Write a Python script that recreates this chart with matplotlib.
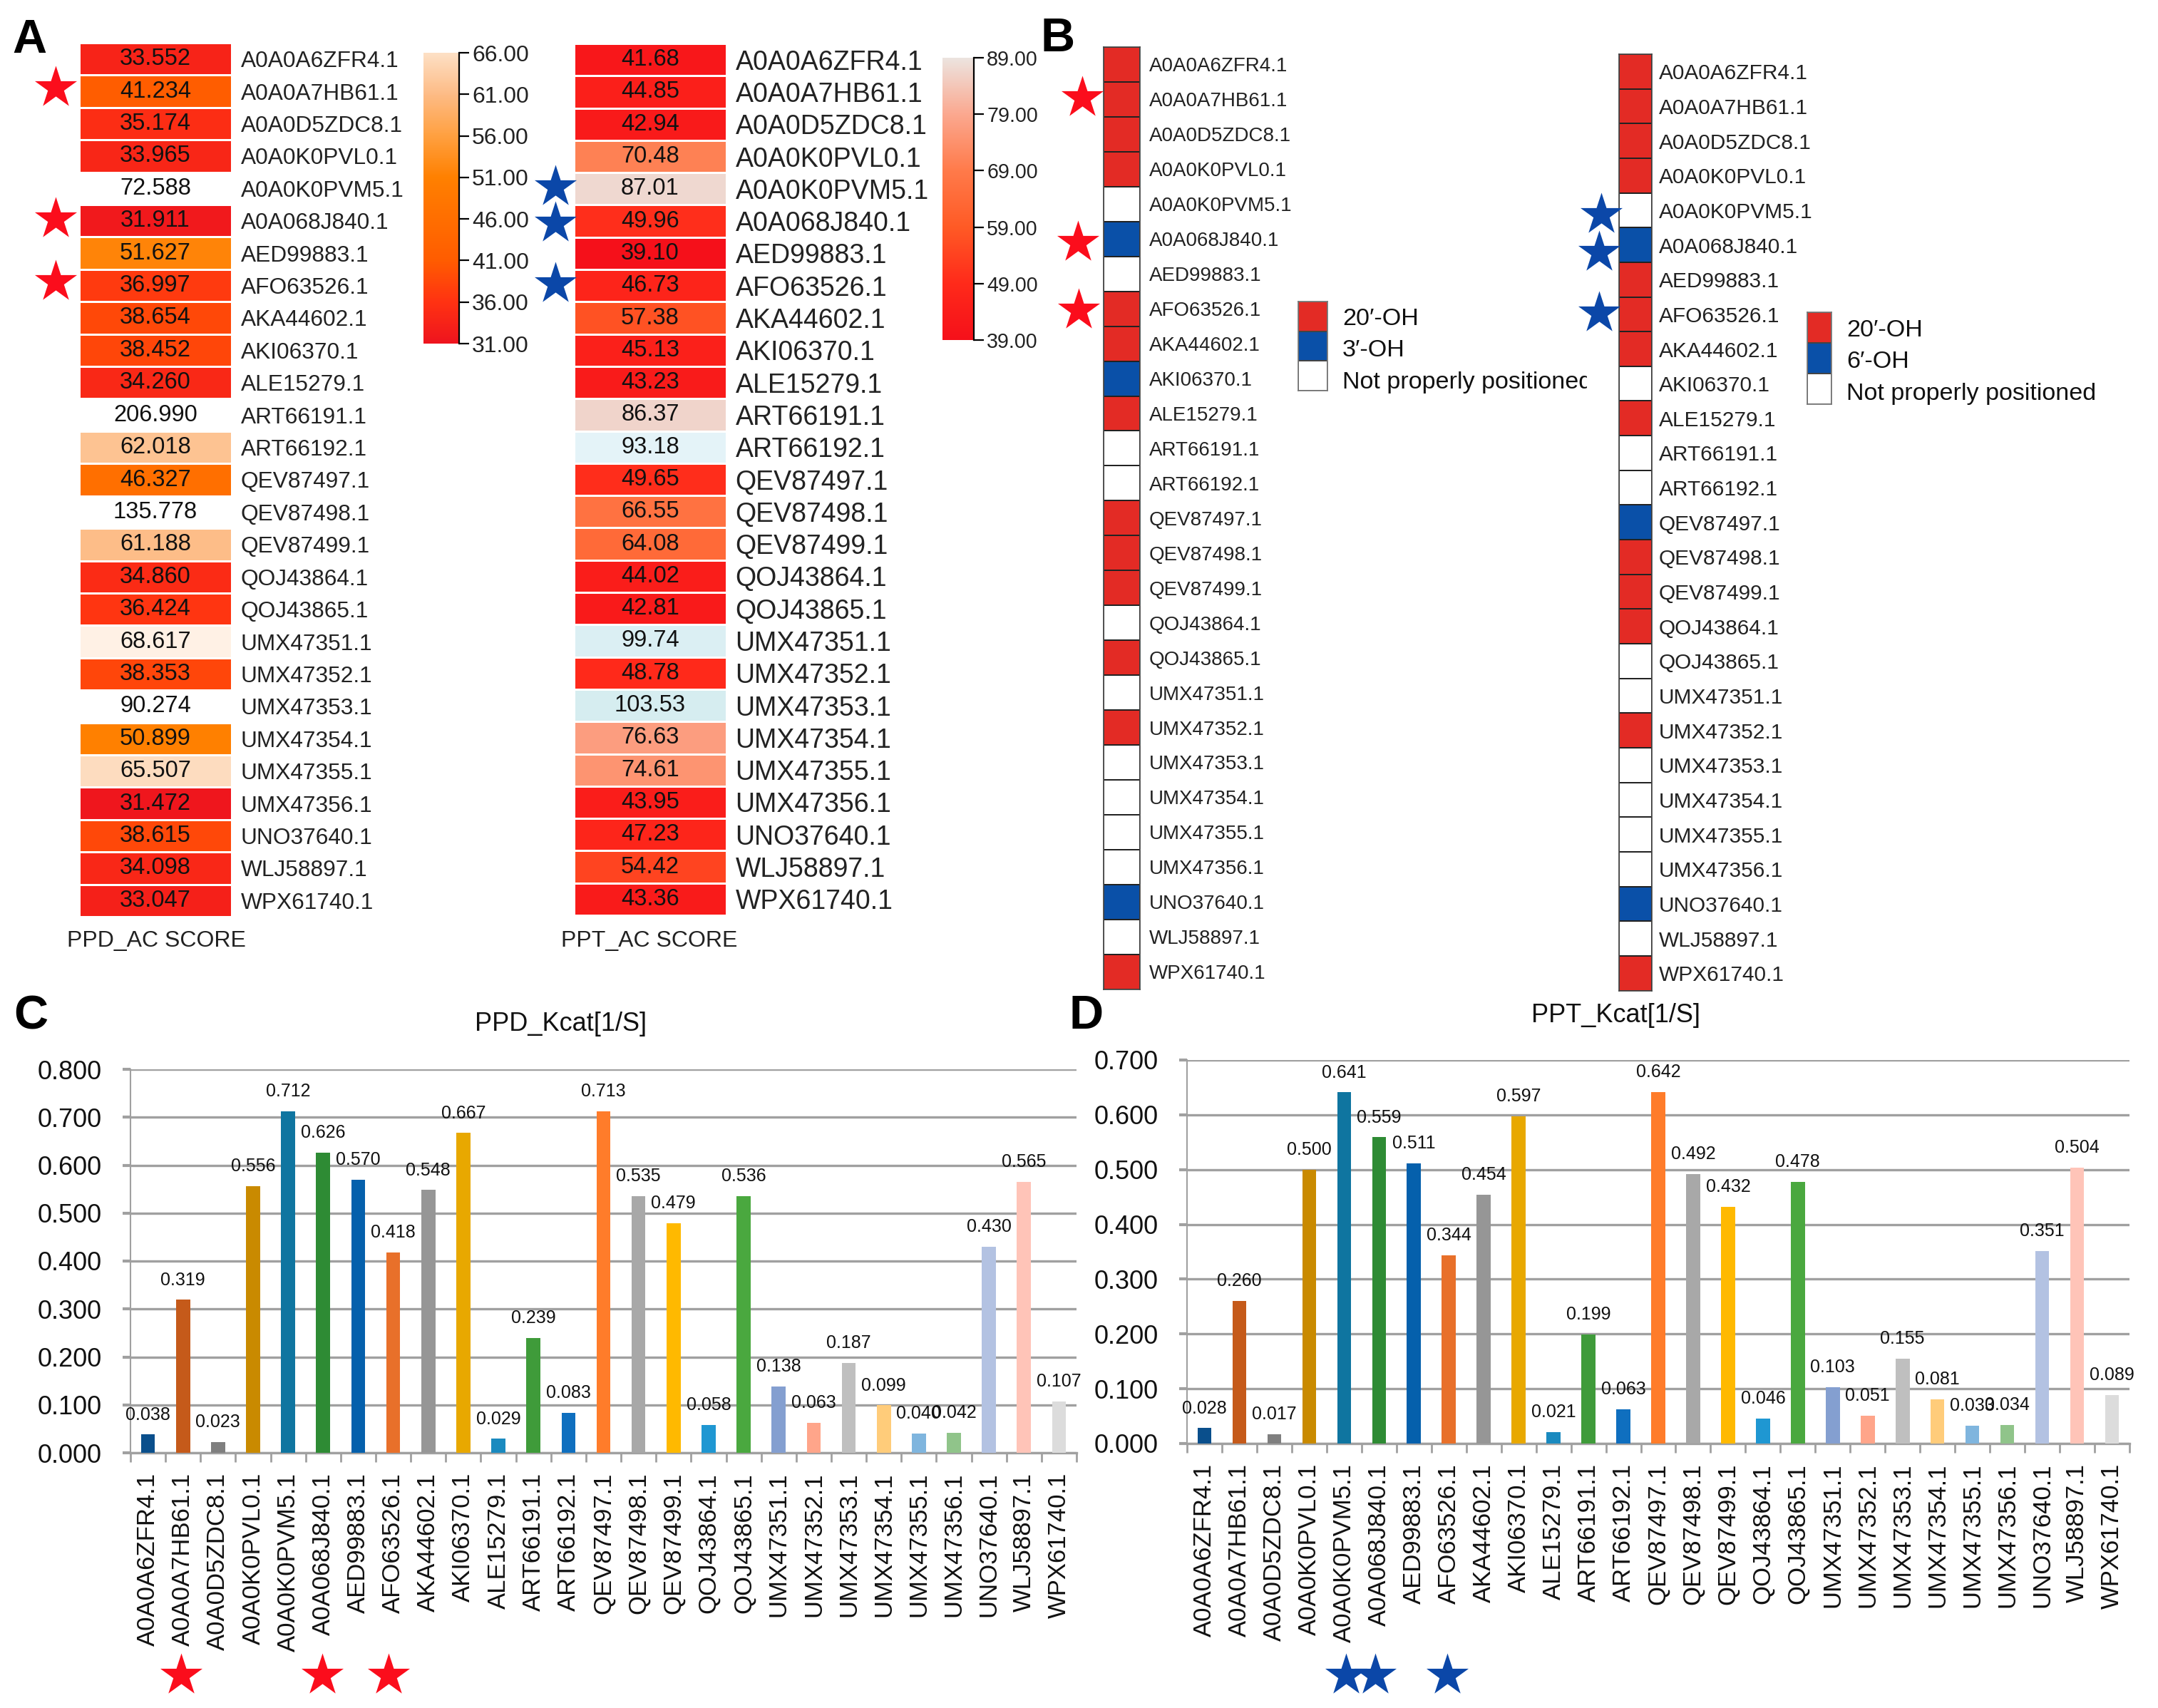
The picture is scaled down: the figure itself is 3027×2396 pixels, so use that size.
import numpy as np
import matplotlib
matplotlib.use('Agg')
import matplotlib.pyplot as plt
from matplotlib.colors import LinearSegmentedColormap, ListedColormap, Normalize
from matplotlib.transforms import Bbox

plt.rcParams['font.family'] = ['Liberation Sans', 'DejaVu Sans']

W, H = 3027, 2396

names = ['A0A0A6ZFR4.1', 'A0A0A7HB61.1', 'A0A0D5ZDC8.1', 'A0A0K0PVL0.1', 'A0A0K0PVM5.1',
         'A0A068J840.1', 'AED99883.1', 'AFO63526.1', 'AKA44602.1', 'AKI06370.1',
         'ALE15279.1', 'ART66191.1', 'ART66192.1', 'QEV87497.1', 'QEV87498.1',
         'QEV87499.1', 'QOJ43864.1', 'QOJ43865.1', 'UMX47351.1', 'UMX47352.1',
         'UMX47353.1', 'UMX47354.1', 'UMX47355.1', 'UMX47356.1', 'UNO37640.1',
         'WLJ58897.1', 'WPX61740.1']

ppd_ac = [33.552, 41.234, 35.174, 33.965, 72.588, 31.911, 51.627, 36.997, 38.654, 38.452,
          34.260, 206.990, 62.018, 46.327, 135.778, 61.188, 34.860, 36.424, 68.617, 38.353,
          90.274, 50.899, 65.507, 31.472, 38.615, 34.098, 33.047]
ppt_ac = [41.68, 44.85, 42.94, 70.48, 87.01, 49.96, 39.10, 46.73, 57.38, 45.13,
          43.23, 86.37, 93.18, 49.65, 66.55, 64.08, 44.02, 42.81, 99.74, 48.78,
          103.53, 76.63, 74.61, 43.95, 47.23, 54.42, 43.36]

# 0 = 20'-OH, 1 = 3'/6'-OH, 2 = not properly positioned
ppd_pos = [0, 0, 0, 0, 2, 1, 2, 0, 0, 1, 0, 2, 2, 0, 0, 0, 2, 0, 2, 0, 2, 2, 2, 2, 1, 2, 0]
ppt_pos = [0, 0, 0, 0, 2, 1, 0, 0, 0, 2, 0, 2, 2, 1, 0, 0, 0, 2, 2, 0, 2, 2, 2, 2, 1, 2, 0]

ppd_kcat = [0.038, 0.319, 0.023, 0.556, 0.712, 0.626, 0.570, 0.418, 0.548, 0.667,
            0.029, 0.239, 0.083, 0.713, 0.535, 0.479, 0.058, 0.536, 0.138, 0.063,
            0.187, 0.099, 0.040, 0.042, 0.430, 0.565, 0.107]
ppt_kcat = [0.028, 0.260, 0.017, 0.500, 0.641, 0.559, 0.511, 0.344, 0.454, 0.597,
            0.021, 0.199, 0.063, 0.642, 0.492, 0.432, 0.046, 0.478, 0.103, 0.051,
            0.155, 0.081, 0.033, 0.034, 0.351, 0.504, 0.089]

bar_colors = ['#0a4f8c', '#c55a1a', '#7f7f7f', '#c98a00', '#0f75a0', '#2e8b34', '#0560ac',
              '#e8702a', '#969696', '#e8a800', '#1a8abf', '#3f9b3a', '#0f6fbf', '#ff7c2a',
              '#a8a8a8', '#ffb900', '#1f97d2', '#4aa83f', '#849fd0', '#ffa58a', '#bfbfbf',
              '#ffcc7a', '#7fb5de', '#90c48a', '#b3c2e2', '#ffc4b8', '#dcdcdc']

ppd_ticks = [31, 36, 41, 46, 51, 56, 61, 66]
ppt_ticks = [39, 49, 59, 69, 79, 89]

RED = '#e32b25'
BLUE = '#0a50a8'
STAR_RED = '#fb0d1c'
STAR_BLUE = '#0b47a8'
GRID = '#a0a0a0'

# colour scales, value -> colour as seen in the cells
ppd_stops = [(31, '#ee141e'), (36, '#ff3212'), (41, '#ff5c00'), (46, '#ff6e00'), (51, '#ff8000'),
             (56, '#ffa040'), (61, '#fdbb85'), (66, '#fde0c5'), (69, '#fff4ea'), (72.6, '#ffffff')]
ppt_stops = [(39, '#f5101a'), (49, '#ff2a1a'), (59, '#ff5a25'), (69, '#ff7a4a'), (79, '#fba88f'),
             (89, '#ece4e0'), (93, '#e4f3f8'), (103.6, '#d6edf0')]


def make_cmap(stops, name):
    lo, hi = stops[0][0], stops[-1][0]
    cm = LinearSegmentedColormap.from_list(name, [((v - lo) / (hi - lo), c) for v, c in stops], N=512)
    cm.set_over(stops[-1][1])
    return cm, Normalize(lo, hi)


fig = plt.figure(figsize=(W / 100, H / 100), dpi=100)


def px_axes(x0, y0, x1, y1, **kw):
    return fig.add_axes([x0 / W, 1 - y1 / H, (x1 - x0) / W, (y1 - y0) / H], **kw)


def heat_column(box, values, fmt, stops, label_fs, value_fs, pad):
    ax = px_axes(*box)
    cm, norm = make_cmap(stops, 'heat')
    column = np.array(values).reshape(-1, 1)
    pcm = ax.pcolormesh(column, cmap=cm, norm=norm, edgecolors='white', linewidth=2)
    ax.set_ylim(len(values), 0)
    ax.set_xlim(0, 1)
    for i, v in enumerate(values):
        ax.text(0.5, i + 0.5, fmt % v, ha='center', va='center', fontsize=value_fs, color='#111111')
    ax.set_xticks([])
    ax.yaxis.tick_right()
    ax.set_yticks(np.arange(len(names)) + 0.5, names, fontsize=label_fs, color='#222222')
    ax.tick_params(axis='y', length=0, pad=pad)
    for s in ax.spines.values():
        s.set_visible(False)
    return pcm


def color_scale(pcm, box, ticks, fs):
    cax = px_axes(*box)
    cb = fig.colorbar(pcm, cax=cax, ticks=ticks, format='%.2f', extend='neither')
    cax.set_ylim(ticks[0], ticks[-1])
    cb.outline.set_visible(False)
    cax.spines['right'].set_visible(True)
    cax.spines['right'].set_color('black')
    cax.spines['right'].set_linewidth(1.6)
    cax.tick_params(length=10, width=1.6, labelsize=fs, pad=3, labelcolor='#222222')


def status_column(box, states, fs, pad):
    ax = px_axes(*box)
    ax.pcolormesh(np.array(states).reshape(-1, 1), cmap=ListedColormap([RED, BLUE, 'white']),
                  vmin=0, vmax=2, edgecolors='#222222', linewidth=1.2)
    ax.set_ylim(len(states), 0)
    ax.set_xticks([])
    ax.yaxis.tick_right()
    ax.set_yticks(np.arange(len(names)) + 0.5, names, fontsize=fs, color='#222222')
    ax.tick_params(axis='y', length=0, pad=pad)
    for s in ax.spines.values():
        s.set_color('#444444')
        s.set_linewidth(1.2)


def status_legend(box):
    ax = px_axes(*box)
    ax.pcolormesh(np.array([[0], [1], [2]]), cmap=ListedColormap([RED, BLUE, 'white']),
                  vmin=0, vmax=2, edgecolors='#444444', linewidth=1.2)
    ax.set_ylim(3, 0)
    ax.set_xticks([])
    ax.set_yticks([])
    for s in ax.spines.values():
        s.set_color('#777777')
        s.set_linewidth(1.2)


def kcat_bars(box, values, ymax, fs_val):
    ax = px_axes(*box)
    x = np.arange(len(values))
    ax.bar(x, values, width=0.4, color=bar_colors, zorder=3)
    ax.set_xlim(-0.5, len(values) - 0.5)
    ax.set_ylim(0, ymax)
    yt = np.arange(0, ymax + 0.01, 0.1)
    ax.set_yticks(yt, ['%.3f' % t for t in yt], fontsize=26, color='#111111')
    ax.set_xticks(x, names, rotation=90, fontsize=25, color='#111111')
    ax.set_xticks(np.arange(len(values) + 1) - 0.5, minor=True)
    ax.tick_params(axis='x', which='major', length=0, pad=20)
    ax.tick_params(axis='x', which='minor', length=9, width=2, color=GRID)
    ax.tick_params(axis='y', length=8, width=3, color=GRID, pad=21)
    ax.yaxis.grid(True, color=GRID, lw=2.4, zorder=1)
    ax.set_axisbelow(True)
    for k in ['top', 'right']:
        ax.spines[k].set_visible(False)
    for k in ['left', 'bottom']:
        ax.spines[k].set_color(GRID)
    ax.spines['left'].set_linewidth(1.5)
    ax.spines['bottom'].set_linewidth(2.4)
    for i, v in enumerate(values):
        ax.annotate('%.3f' % v, (i, v), xytext=(0, 20), textcoords='offset points',
                    ha='center', va='center', fontsize=fs_val, color='#111111', zorder=5,
                    annotation_clip=False)


# panel A
pcm_a = heat_column((111, 60, 325, 1286), ppd_ac, '%.3f', ppd_stops, 22.8, 23.5, 9)
color_scale(pcm_a, (594, 74, 644, 482), ppd_ticks, 23)
pcm_b = heat_column((805, 61, 1019, 1284), ppt_ac, '%.2f', ppt_stops, 27, 23.5, 9)
color_scale(pcm_b, (1322, 81, 1366, 477), ppt_ticks, 20.6)

# panel B
status_column((1548, 66, 1599, 66 + 27 * 48.95), ppd_pos, 20, 9)
status_column((2271, 76, 2317, 76 + 27 * 48.65), ppt_pos, 21.5, 7)
status_legend((1821, 423, 1862, 548))
status_legend((2535, 438, 2569, 567))

# panels C, D
kcat_bars((183, 1500, 1510, 2038), ppd_kcat, 0.8, 18)
kcat_bars((1665, 1487, 2987, 2025), ppt_kcat, 0.7, 18)

# stars, panel letters and loose text sit on a full-figure overlay in pixel units
ov = px_axes(0, 0, W, H, facecolor='none', zorder=10)
ov.set_xlim(0, W)
ov.set_ylim(H, 0)
ov.axis('off')

red_x = [78, 78, 78, 1518, 1512, 1513, 254, 452, 545]
red_y = [123, 307, 395, 137, 340, 435, 2350, 2350, 2350]
blue_x = [779, 779, 779, 2246, 2243, 2243, 1888, 1929, 2030]
blue_y = [262, 313, 398, 301, 354, 439, 2350, 2350, 2350]
ov.scatter(red_x, red_y, marker='*', s=2000, color=STAR_RED, linewidths=0)
ov.scatter(blue_x, blue_y, marker='*', s=2000, color=STAR_BLUE, linewidths=0)

for letter, lx, ly in [('A', 17, 57), ('B', 1460, 55), ('C', 19, 1426), ('D', 1500, 1426)]:
    ov.text(lx, ly, letter, fontsize=48, fontweight='bold', ha='left', va='center', color='black')

ov.text(219, 1320, 'PPD_AC SCORE', fontsize=23, ha='center', va='center', color='#222222')
ov.text(911, 1320, 'PPT_AC SCORE', fontsize=23, ha='center', va='center', color='#222222')
ov.text(787, 1437, 'PPD_Kcat[1/S]', fontsize=26, ha='center', va='center', color='#111111')
ov.text(2267, 1424, 'PPT_Kcat[1/S]', fontsize=26, ha='center', va='center', color='#111111')

legend_a = ["20\u2032-OH", "3\u2032-OH", "Not properly positioned"]
legend_b = ["20\u2032-OH", "6\u2032-OH", "Not properly positioned"]
for i, s in enumerate(legend_a):
    t = ov.text(1883, 448 + i * 44, s, fontsize=24.6, ha='left', va='center', color='#111111')
    # the reference cuts the last letter off here
    t.set_clip_box(Bbox.from_extents(0, 0, 2226, H))
    t.set_clip_on(True)
for i, s in enumerate(legend_b):
    ov.text(2590, 464 + i * 44, s, fontsize=24.6, ha='left', va='center', color='#111111')

fig.savefig('out.png', dpi=100, facecolor='white')
